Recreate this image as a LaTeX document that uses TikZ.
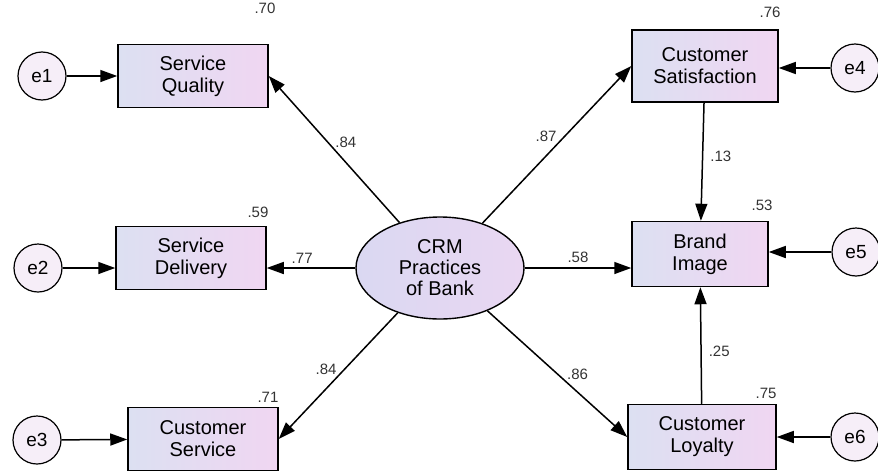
\documentclass[tikz,border=0pt]{standalone}
\usepackage{fontspec}
\setmainfont{Liberation Sans}
\usetikzlibrary{arrows.meta}
\usetikzlibrary{shapes.geometric}
\definecolor{boxblue}{RGB}{220,224,242}
\definecolor{boxpink}{RGB}{240,214,242}
\definecolor{ovalfill}{RGB}{218,216,242}
\definecolor{errfill}{RGB}{246,238,248}
\tikzset{obs/.style = {draw, line width = 1.5pt, left color = boxblue, right color = boxpink,
                       minimum width = 150, minimum height = 63, align = center, inner sep = 1pt,
                       font = \fontsize{20}{22}\selectfont}}
\tikzset{err/.style = {draw, line width = 1.2pt, circle, fill = errfill, minimum size = 48,
                       inner sep = 0, font = \fontsize{19}{22}\selectfont}}
\tikzset{lat/.style = {draw, line width = 1.4pt, ellipse, left color = ovalfill, right color = boxpink!70!ovalfill,
                       minimum width = 168, minimum height = 102, align = center, inner sep = 0,
                       font = \fontsize{20}{21}\selectfont}}
\tikzset{path/.style = {line width = 1.5pt, -{Triangle[length = 17pt, width = 12pt]}}}
\tikzset{coef/.style = {font = \fontsize{15}{15}\selectfont, text = black!80, inner sep = 1pt}}

\begin{document}
\begin{tikzpicture}[x = 1pt, y = -1pt]
      \useasboundingbox (0, 0) rectangle (878, 474);

      \node [lat] (crm) at (440, 268) {CRM\\Practices\\of Bank};

      \node [obs] (sq) at (193, 76) {Service\\Quality};
      \node [obs] (sd) at (191, 258) {Service\\Delivery};
      \node [obs] (cs) at (203, 439) {Customer\\Service};
      \node [obs, minimum width = 146, minimum height = 72] (sat) at (705, 66) {Customer\\Satisfaction};
      \node [obs, minimum width = 136, minimum height = 65] (brand) at (700, 254) {Brand\\Image};
      \node [obs, minimum width = 148, minimum height = 65] (loyal) at (702, 437) {Customer\\Loyalty};

      \node [err] (e1) at (42, 76) {e1};
      \node [err] (e2) at (38, 268) {e2};
      \node [err] (e3) at (37, 440) {e3};
      \node [err] (e4) at (855, 68) {e4};
      \node [err] (e5) at (856, 252) {e5};
      \node [err] (e6) at (855, 437) {e6};

      \draw [path] (e1) -- (sq);
      \draw [path] (e2) -- (sd.west |- e2);
      \draw [path] (e3) -- (cs);
      \draw [path] (e4) -- (sat.east |- e4);
      \draw [path] (e5) -- (brand.east |- e5);
      \draw [path] (e6) -- (loyal);

      \draw [path] (crm) -- (sq.east) node [coef, pos = 0.55, right = 6pt] {.84};
      \draw [path] (crm) -- (sd.east |- crm) node [coef, pos = 0.6, above = 3pt] {.77};
      \draw [path] (crm) -- (cs.east) node [coef, pos = 0.45, left = 6pt] {.84};
      \draw [path] (crm) -- (sat.west) node [coef, pos = 0.55, left = 6pt] {.87};
      \draw [path] (crm) -- (brand.west |- crm) node [coef, pos = 0.5, above = 4pt] {.58};
      \draw [path] (crm) -- (loyal.west) node [coef, pos = 0.5, right = 8pt] {.86};
      \draw [path] (sat) -- (brand) node [coef, pos = 0.45, right = 6pt] {.13};
      \draw [path] (loyal) -- (brand) node [coef, pos = 0.45, right = 6pt] {.25};

      \node [coef] (r1) at (265, 8) {.70};
      \node [coef] (r2) at (258, 212) {.59};
      \node [coef] (r3) at (268, 397) {.71};
      \node [coef] (r4) at (770, 12) {.76};
      \node [coef] (r5) at (762, 205) {.53};
      \node [coef] (r6) at (766, 393) {.75};
    \end{tikzpicture}
\end{document}
